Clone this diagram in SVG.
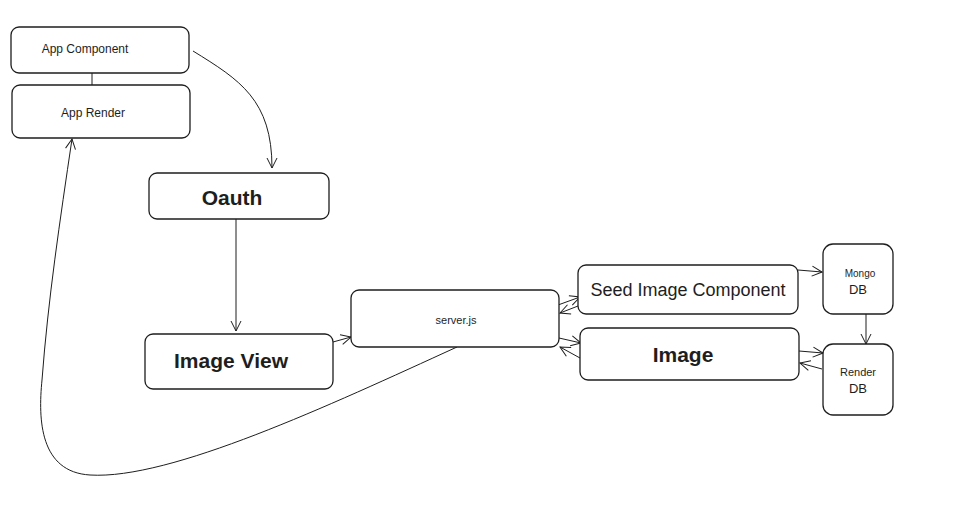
<svg xmlns="http://www.w3.org/2000/svg" width="956" height="530" viewBox="0 0 956 530">
<defs>
<marker id="ah" viewBox="0 0 12 12" refX="11" refY="6" markerWidth="12" markerHeight="12" markerUnits="userSpaceOnUse" orient="auto">
<path d="M1,1 L11,6 L1,11" fill="none" stroke="#1e1e1e" stroke-width="1"/>
</marker>
<style>
.box{fill:#fff;stroke:#1e1e1e;stroke-width:1.3}
.c{fill:none;stroke:#1e1e1e;stroke-width:1}
.t{font-family:"Liberation Sans",Arial,sans-serif;fill:#1e1e1e;text-anchor:middle;dominant-baseline:central}
</style>
</defs>
<rect width="956" height="530" fill="#fff"/>
<g id="connectors">
<path class="c" d="M92,73 L92,85"/>
<path class="c" marker-end="url(#ah)" d="M193,51 C240,80 272,100 272,168"/>
<path class="c" marker-end="url(#ah)" d="M236,219 L236,331"/>
<path class="c" marker-end="url(#ah)" d="M333,342 L351,337"/>
<path class="c" marker-end="url(#ah)" d="M558,305 L580,297"/>
<path class="c" marker-end="url(#ah)" d="M578,306 L560,313"/>
<path class="c" marker-end="url(#ah)" d="M559,338 L581,343"/>
<path class="c" marker-end="url(#ah)" d="M580,358 L560,347"/>
<path class="c" marker-end="url(#ah)" d="M798,270 L822,272"/>
<path class="c" marker-end="url(#ah)" d="M866,314 L866,344"/>
<path class="c" marker-end="url(#ah)" d="M799,351 L823,353"/>
<path class="c" marker-end="url(#ah)" d="M822,369 L800,363"/>
<path class="c" marker-end="url(#ah)" d="M457,347 C330,405 170,480 90,475 C40,472 38,420 42,380 C48,300 60,220 72,139"/>
</g>
<g id="app-component">
<rect class="box" x="11" y="27" width="178" height="46" rx="8"/>
<text class="t" x="85" y="49" font-size="12">App Component</text>
</g>
<g id="app-render">
<rect class="box" x="12" y="85" width="178" height="53" rx="8"/>
<text class="t" x="93" y="113" font-size="12">App Render</text>
</g>
<g id="oauth">
<rect class="box" x="149" y="173" width="180" height="46" rx="8"/>
<text class="t" x="232" y="197" font-size="21" font-weight="bold">Oauth</text>
</g>
<g id="image-view">
<rect class="box" x="145" y="334" width="188" height="55" rx="8"/>
<text class="t" x="231" y="360" font-size="21" font-weight="bold">Image View</text>
</g>
<g id="server">
<rect class="box" x="351" y="290" width="208" height="57" rx="8"/>
<text class="t" x="456" y="320" font-size="11">server.js</text>
</g>
<g id="seed">
<rect class="box" x="578" y="265" width="220" height="49" rx="8"/>
<text class="t" x="688" y="290" font-size="18">Seed Image Component</text>
</g>
<g id="image">
<rect class="box" x="580" y="328" width="219" height="52" rx="8"/>
<text class="t" x="683" y="354" font-size="21" font-weight="bold">Image</text>
</g>
<g id="mongo">
<rect class="box" x="823" y="244" width="70" height="70" rx="10"/>
<text class="t" x="860" y="273" font-size="10">Mongo</text>
<text class="t" x="858" y="289" font-size="13">DB</text>
</g>
<g id="render-db">
<rect class="box" x="823" y="344" width="70" height="71" rx="10"/>
<text class="t" x="858" y="372" font-size="11">Render</text>
<text class="t" x="858" y="388" font-size="13">DB</text>
</g>
</svg>
